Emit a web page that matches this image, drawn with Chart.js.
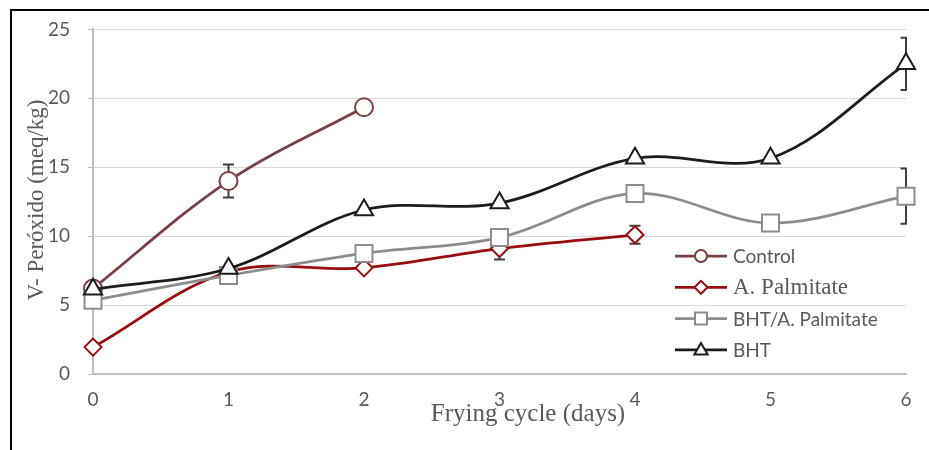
<!DOCTYPE html>
<html>
<head>
<meta charset="utf-8">
<script src="https://cdn.jsdelivr.net/npm/chart.js@4.4.1/dist/chart.umd.min.js"></script>
<style>
  html, body { margin: 0; padding: 0; background: #fff; }
  #wrap { position: relative; width: 929px; height: 450px; }
  #frame { position: absolute; left: 10px; top: 9px; right: 0; bottom: 0; border-top: 2px solid #000; border-left: 2px solid #000; pointer-events: none; }
</style>
</head>
<body>
<div id="wrap">
  <canvas id="chart" width="929" height="450"></canvas>
  <div id="frame"></div>
</div>
<script>
const cycles = ['0', '1', '2', '3', '4', '5', '6'];
const control = [6.2, 14.0, 19.35];
const controlErr = [0, 1.2, 0];
const palmitate = [1.95, 7.4, 7.7, 9.1, 10.1];
const palmitateErr = [0, 0, 0, 0.8, 0.65];
const bhtPalm = [5.35, 7.15, 8.75, 9.9, 13.1, 10.95, 12.9];
const bhtPalmErr = [0, 0, 0, 0, 0, 0, 2.0];
const bht = [6.15, 7.65, 11.9, 12.4, 15.65, 15.65, 22.5];
const bhtErr = [0, 0, 0, 0, 0, 0, 1.9];

const colors = { control: '#7c3e45', palm: '#990c0c', bhtPalm: '#8c8c8c', bht: '#1c1c1c' };
const textColor = '#595959';
const sans = 'Lato';
const serif = '"Liberation Serif", "DejaVu Serif", serif';

Chart.defaults.font.family = sans;

function series(label, data, color, style, radius, order) {
  return {
    label, data, order,
    borderColor: color,
    borderWidth: 2.75,
    tension: 0.35,
    pointStyle: style,
    pointRadius: radius,
    pointBorderWidth: 2,
    pointBorderColor: color,
    pointBackgroundColor: '#fff',
  };
}

function drawMarker(ctx, style, x, y, r) {
  ctx.beginPath();
  if (style === 'circle') ctx.arc(x, y, r, 0, Math.PI * 2);
  else if (style === 'rectRot') { ctx.moveTo(x - r, y); ctx.lineTo(x, y - r); ctx.lineTo(x + r, y); ctx.lineTo(x, y + r); ctx.closePath(); }
  else if (style === 'rect') ctx.rect(x - r, y - r, 2 * r, 2 * r);
  else { ctx.moveTo(x, y - r); ctx.lineTo(x + r * 0.95, y + r * 0.65); ctx.lineTo(x - r * 0.95, y + r * 0.65); ctx.closePath(); }
  ctx.fill();
  ctx.stroke();
}

const errorSets = [
  [control, controlErr],
  [palmitate, palmitateErr],
  [bhtPalm, bhtPalmErr],
  [bht, bhtErr],
];

const errorBars = {
  id: 'errorBars',
  beforeDatasetsDraw(chart) {
    const { ctx, chartArea: a, scales: { x, y } } = chart;
    ctx.save();
    ctx.beginPath();
    ctx.rect(a.left - 10, a.top - 20, a.width + 11, a.height + 40);
    ctx.clip();
    ctx.strokeStyle = '#404040';
    ctx.lineWidth = 2;
    errorSets.forEach(([vals, errs]) => {
      vals.forEach((v, i) => {
        const e = errs[i];
        if (!e) return;
        const px = x.getPixelForValue(i);
        const top = y.getPixelForValue(v + e);
        const bot = y.getPixelForValue(v - e);
        ctx.beginPath();
        ctx.moveTo(px, top); ctx.lineTo(px, bot);
        ctx.moveTo(px - 5.5, top); ctx.lineTo(px + 5.5, top);
        ctx.moveTo(px - 5.5, bot); ctx.lineTo(px + 5.5, bot);
        ctx.stroke();
      });
    });
    ctx.restore();
  },
};

const legendItems = [
  { text: 'Control', color: colors.control, style: 'circle', r: 6, font: `19px ${sans}` },
  { text: 'A. Palmitate', color: colors.palm, style: 'rectRot', r: 6.5, font: `23px ${serif}` },
  { text: 'BHT/A. Palmitate', color: colors.bhtPalm, style: 'rect', r: 6, font: `19px ${sans}` },
  { text: 'BHT', color: colors.bht, style: 'triangle', r: 7, font: `19px ${sans}` },
];

const decorations = {
  id: 'decorations',
  afterDraw(chart) {
    const { ctx } = chart;
    ctx.save();
    ctx.fillStyle = textColor;
    ctx.textBaseline = 'middle';

    // axis titles
    ctx.font = `25px ${serif}`;
    ctx.textAlign = 'center';
    ctx.fillText('Frying cycle (days)', 528, 414);
    ctx.save();
    ctx.translate(37, 200);
    ctx.rotate(-Math.PI / 2);
    ctx.font = `23px ${serif}`;
    ctx.fillText('V- Peróxido (meq/kg)', 0, 0);
    ctx.restore();

    // legend inside plot
    ctx.textAlign = 'left';
    legendItems.forEach((it, i) => {
      const ly = 256 + i * 31.3;
      ctx.strokeStyle = it.color;
      ctx.lineWidth = 2.75;
      ctx.beginPath();
      ctx.moveTo(675, ly); ctx.lineTo(727, ly);
      ctx.stroke();
      ctx.lineWidth = 2;
      ctx.fillStyle = '#fff';
      drawMarker(ctx, it.style, 701, ly, it.r);
      ctx.fillStyle = textColor;
      ctx.font = it.font;
      ctx.fillText(it.text, 733, ly + 1);
    });
    ctx.restore();
  },
};

new Chart(document.getElementById('chart'), {
  type: 'line',
  data: {
    labels: cycles,
    datasets: [
      series('BHT', bht, colors.bht, 'triangle', 10.5, 0),
      series('BHT/A. Palmitate', bhtPalm, colors.bhtPalm, 'rect', 12, 1),
      series('A. Palmitate', palmitate, colors.palm, 'rectRot', 8.5, 2),
      series('Control', control, colors.control, 'circle', 9, 3),
    ],
  },
  options: {
    responsive: false,
    animation: false,
    layout: { padding: { top: 27.5, right: 23, bottom: 0, left: 0 } },
    plugins: { legend: { display: false }, tooltip: { enabled: false } },
    scales: {
      x: {
        offset: false,
        afterFit: s => { s.height = 76; },
        grid: { drawOnChartArea: false, drawTicks: false },
        border: { color: '#bfbfbf', width: 2 },
        ticks: { color: textColor, font: { size: 19 }, padding: 14, maxRotation: 0, autoSkip: false },
      },
      y: {
        min: 0,
        max: 25,
        afterFit: s => { s.width = 93; },
        grid: { color: '#d9d9d9', lineWidth: 1, tickLength: 5, tickColor: '#bfbfbf' },
        border: { color: '#bfbfbf', width: 2 },
        ticks: { stepSize: 5, color: textColor, font: { size: 19 }, padding: 18 },
      },
    },
  },
  plugins: [errorBars, decorations],
});
</script>
</body>
</html>
